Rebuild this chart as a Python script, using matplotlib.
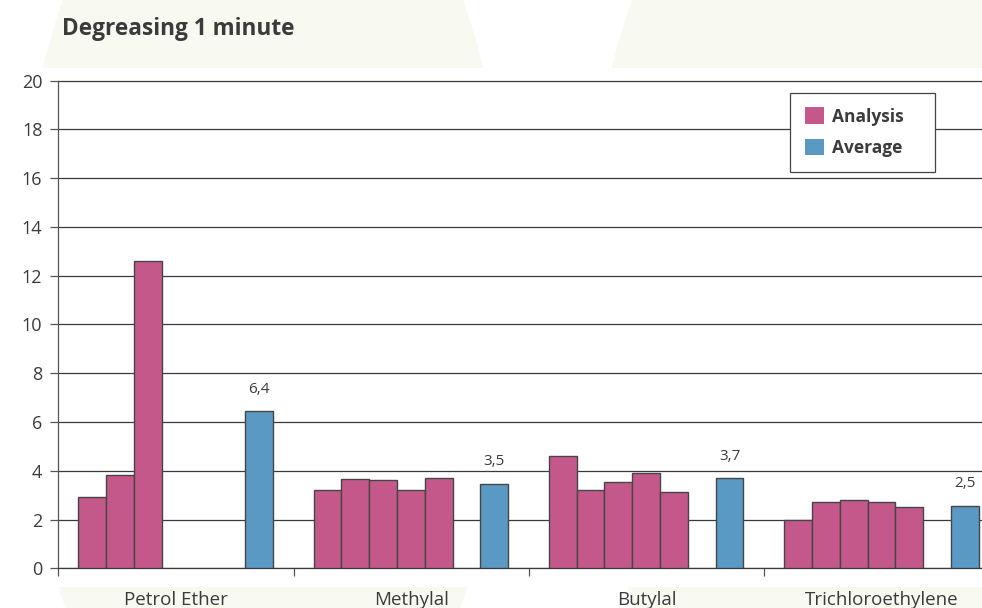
import matplotlib
matplotlib.use("Agg")
import matplotlib.pyplot as plt
from matplotlib.patches import Ellipse, Rectangle, Patch

# values
categories = ["Petrol Ether", "Methylal", "Butylal", "Trichloroethylene"]
analysis = [
    [2.91, 3.84, 12.59],
    [3.19, 3.65, 3.61, 3.21, 3.69],
    [4.62, 3.23, 3.55, 3.91, 3.13],
    [1.98, 2.71, 2.79, 2.71, 2.53],
]
averages = [6.43, 3.47, 3.69, 2.56]
avg_labels = ["6,4", "3,5", "3,7", "2,5"]
yticks = [0, 2, 4, 6, 8, 10, 12, 14, 16, 18, 20]

pink = "#C4588A"
blue = "#5B99C5"
edge = "#454545"
text_col = "#3b3b3b"
cream = "#F8F9F1"

plt.rcParams["font.family"] = ["Open Sans", "DejaVu Sans"]

W, H = 982, 608
fig = plt.figure(figsize=(W / 100, H / 100), dpi=100)

# faint background shapes
bg = fig.add_axes([0, 0, 1, 1], zorder=-1)
bg.set_xlim(0, W)
bg.set_ylim(H, 0)
bg.axis("off")
for cx in (263, 832):
    bg.add_patch(Ellipse((cx, 300), 494, 1024, color=cream, lw=0))
bg.add_patch(Rectangle((0, 68), W, 519, color="white", lw=0))

# layout in pixels
x0, y0 = 58.3, 568.3
unit = (568.3 - 80.5) / 20   # px per y unit
ymax = 20.1                  # a bit of headroom so the top gridline is not clipped
ytop = y0 - ymax * unit
slot = 27.8            # one bar width
group = 235.3 / slot   # group width in slots
offset = 20 / slot     # gap before first bar

ax = fig.add_axes([x0 / W, (H - y0) / H, (W - x0) / W, (y0 - ytop) / H])
ax.set_facecolor("none")

for k, cat in enumerate(categories):
    start = k * group + offset
    for i, v in enumerate(analysis[k]):
        ax.bar(start + i, v, width=1, align="edge", color=pink,
               edgecolor=edge, linewidth=1.0, zorder=3)
    ax.bar(start + 6, averages[k], width=1, align="edge", color=blue,
           edgecolor=edge, linewidth=1.0, zorder=3)
    ax.annotate(avg_labels[k], (start + 6.5, averages[k]), xytext=(0, 16),
                textcoords="offset points", ha="center", va="center",
                fontsize=11, color=text_col)

ax.set_axisbelow(True)
ax.yaxis.grid(True, color="#3a3a3a", linewidth=0.9)
ax.set_yticks(yticks)
ax.tick_params(axis="y", direction="out", length=6, width=0.9, color="#555555",
               labelsize=13, labelcolor=text_col, pad=5.5)

ax.set_xticks([k * group for k in range(len(categories) + 1)])
ax.set_xticklabels([])
ax.set_xticks([k * group + group / 2 for k in range(len(categories))], minor=True)
ax.set_xticklabels(categories, minor=True)
ax.tick_params(axis="x", which="major", direction="out", length=6, width=0.9,
               color="#555555")
ax.tick_params(axis="x", which="minor", length=0, labelsize=13.5,
               labelcolor=text_col, pad=16)

# limits after ticks so the last group tick does not widen the view
ax.set_xlim(0, (W - x0) / slot)
ax.set_ylim(0, ymax)

for s in ("top", "right"):
    ax.spines[s].set_visible(False)
ax.spines["left"].set_bounds(0, 20)
ax.spines["left"].set_color("#555555")
ax.spines["bottom"].set_color("#3a3a3a")
ax.spines["left"].set_linewidth(0.9)
ax.spines["bottom"].set_linewidth(0.9)

fig.text(62 / W, 1 - 35 / H, "Degreasing 1 minute", fontsize=16.3,
         fontweight="bold", color=text_col, va="baseline", ha="left")

handles = [Patch(facecolor=pink, edgecolor="none", label="Analysis"),
           Patch(facecolor=blue, edgecolor="none", label="Average")]
leg = ax.legend(handles=handles, loc="upper left",
                bbox_to_anchor=(790 / W, 1 - 92.7 / H, 145 / W, 0),
                bbox_transform=fig.transFigure, mode="expand", borderaxespad=0,
                prop={"weight": "bold", "size": 12.5}, labelcolor=text_col,
                fancybox=False, edgecolor="#444444", framealpha=1,
                handlelength=1.1, handleheight=1.1, handletextpad=0.45,
                borderpad=0.85, labelspacing=0.75)
leg.get_frame().set_linewidth(0.9)

fig.savefig("out.png", dpi=100)
